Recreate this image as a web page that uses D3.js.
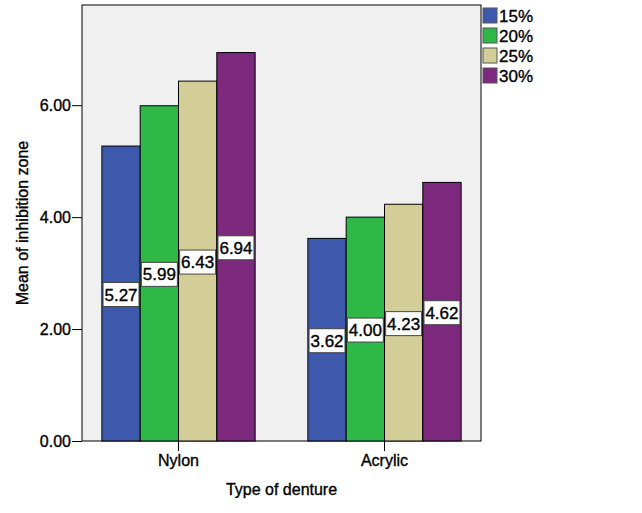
<!DOCTYPE html>
<html>
<head>
<meta charset="utf-8">
<script src="https://cdn.jsdelivr.net/npm/d3@7"></script>
<style>
  body { margin: 0; background: #fff; }
  text { font-family: "Liberation Sans", Arial, sans-serif; fill: #000; stroke: #000; stroke-width: 0.35px; }
</style>
</head>
<body>
<svg id="chart" width="642" height="513"></svg>
<script>
// data
var dentureTypes = ["Nylon", "Acrylic"];
var concentrations = ["15%", "20%", "25%", "30%"];
var nylonMeans = [5.27, 5.99, 6.43, 6.94];
var acrylicMeans = [3.62, 4.00, 4.23, 4.62];
var yTicks = [0, 2, 4, 6];
var barColors = ["#3e58ac", "#2eb848", "#d3ce97", "#7c287d"];

var meansByType = { "Nylon": nylonMeans, "Acrylic": acrylicMeans };

var svg = d3.select("#chart");

var plotLeft = 82, plotRight = 481, plotTop = 5, plotBottom = 441;

/***** scales *****/
var x0 = d3.scaleBand()
    .domain(dentureTypes)
    .range([plotLeft, plotRight])
    .paddingInner(0.256)
    .paddingOuter(0.0965);

var x1 = d3.scaleBand()
    .domain(concentrations)
    .range([0, x0.bandwidth()]);

var y = d3.scaleLinear()
    .domain([0, 7.79])
    .range([plotBottom, plotTop]);

/***** plot background *****/
svg.append("rect")
    .attr("x", plotLeft)
    .attr("y", plotTop)
    .attr("width", plotRight - plotLeft)
    .attr("height", plotBottom - plotTop)
    .attr("fill", "#f0f0f0")
    .attr("stroke", "#000")
    .attr("stroke-width", 1);

/***** bars *****/
var groups = svg.selectAll("g.group")
    .data(dentureTypes)
    .enter().append("g")
    .attr("class", "group")
    .attr("transform", function(d) { return "translate(" + x0(d) + ",0)"; });

var cells = groups.selectAll("g.bar")
    .data(function(d) {
        return concentrations.map(function(c, i) { return { conc: c, value: meansByType[d][i], i: i }; });
    })
    .enter().append("g")
    .attr("class", "bar");

cells.append("rect")
    .attr("x", function(d) { return x1(d.conc); })
    .attr("y", function(d) { return y(d.value); })
    .attr("width", x1.bandwidth())
    .attr("height", function(d) { return y(0) - y(d.value); })
    .attr("fill", function(d) { return barColors[d.i]; })
    .attr("stroke", "#000")
    .attr("stroke-width", 1);

// value labels in white boxes, at half the bar height
var boxW = 36, boxH = 24;
cells.append("rect")
    .attr("x", function(d) { return x1(d.conc) + x1.bandwidth() / 2 - boxW / 2; })
    .attr("y", function(d) { return (y(d.value) + y(0)) / 2 - boxH / 2 + 1; })
    .attr("width", boxW)
    .attr("height", boxH)
    .attr("fill", "#fff")
    .attr("stroke", "#444")
    .attr("stroke-width", 1);

cells.append("text")
    .attr("x", function(d) { return x1(d.conc) + x1.bandwidth() / 2; })
    .attr("y", function(d) { return (y(d.value) + y(0)) / 2 + 1; })
    .attr("dy", "0.36em")
    .attr("text-anchor", "middle")
    .attr("font-size", 17)
    .text(function(d) { return d.value.toFixed(2); });

/***** axes *****/
var yAxis = d3.axisLeft(y)
    .tickValues(yTicks)
    .tickFormat(d3.format(".2f"))
    .tickSize(10)
    .tickPadding(1);

svg.append("g")
    .attr("class", "y axis")
    .attr("transform", "translate(" + plotLeft + ",0)")
    .call(yAxis)
    .call(function(g) { g.select(".domain").remove(); })
    .call(function(g) {
        g.selectAll("line").attr("stroke", "#000");
        g.selectAll("text").attr("font-size", 16).attr("font-family", "Liberation Sans, Arial, sans-serif");
    });

var xAxis = d3.axisBottom(x0)
    .tickSize(10)
    .tickPadding(4);

svg.append("g")
    .attr("class", "x axis")
    .attr("transform", "translate(0," + plotBottom + ")")
    .call(xAxis)
    .call(function(g) { g.select(".domain").remove(); })
    .call(function(g) {
        g.selectAll("line").attr("stroke", "#000");
        g.selectAll("text").attr("font-size", 16).attr("font-family", "Liberation Sans, Arial, sans-serif");
    });

/***** axis titles *****/
svg.append("text")
    .attr("x", (plotLeft + plotRight) / 2)
    .attr("y", 495)
    .attr("text-anchor", "middle")
    .attr("font-size", 16)
    .text("Type of denture");

svg.append("text")
    .attr("transform", "translate(28," + (plotTop + plotBottom) / 2 + ") rotate(-90)")
    .attr("text-anchor", "middle")
    .attr("font-size", 16)
    .text("Mean of inhibition zone");

/***** legend *****/
var legend = svg.selectAll("g.legend")
    .data(concentrations)
    .enter().append("g")
    .attr("class", "legend")
    .attr("transform", function(d, i) { return "translate(483," + (8 + i * 20) + ")"; });

legend.append("rect")
    .attr("width", 14)
    .attr("height", 15)
    .attr("fill", function(d, i) { return barColors[i]; })
    .attr("stroke", "#555")
    .attr("stroke-width", 1);

legend.append("text")
    .attr("x", 16)
    .attr("y", 8)
    .attr("dy", "0.36em")
    .attr("font-size", 17)
    .text(function(d) { return d; });
</script>
</body>
</html>
